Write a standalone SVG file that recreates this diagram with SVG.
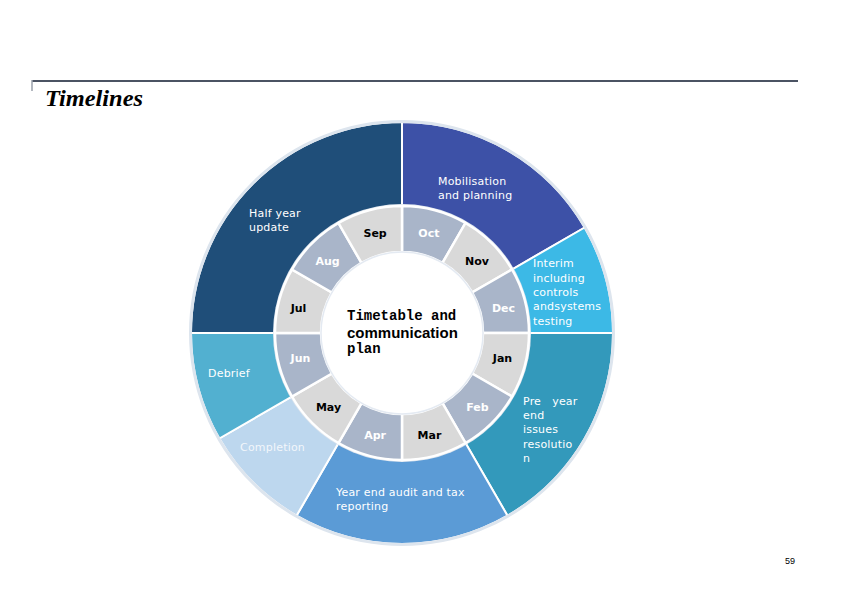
<svg xmlns="http://www.w3.org/2000/svg" width="842" height="595" viewBox="0 0 842 595">
<style>
.seg{stroke:#ffffff;stroke-width:2}
.mon{stroke:#ffffff;stroke-width:2.5}
.mb{fill:#a9b5c9}
.ml{fill:#d9d9d9}
.mt{font-family:"DejaVu Sans","Liberation Sans",sans-serif;font-size:11px;font-weight:bold;text-anchor:middle}
.tw{fill:#ffffff}
.tk{fill:#000000}
.ol{font-family:"DejaVu Sans","Liberation Sans",sans-serif;font-size:11px;fill:#ffffff;letter-spacing:0.2px}
.mono{font-family:"Liberation Mono","Courier New",monospace;font-size:14px;font-weight:bold;fill:#000}
</style>
<rect width="842" height="595" fill="#ffffff"/>
<g id="header">
<line x1="32" y1="81" x2="798" y2="81" stroke="#4b5363" stroke-width="2"/>
<line x1="32" y1="80" x2="32" y2="91" stroke="#9aa1ab" stroke-width="1.5"/>
<text x="45" y="106" font-family="Liberation Serif,serif" font-size="23" font-style="italic" font-weight="bold" textLength="98" lengthAdjust="spacingAndGlyphs" fill="#000">Timelines</text>
</g>
<g id="outer-ring">
<g id="mobilisation"><path class="seg" fill="#3d51a7" d="M402,333 L402,122 A211,211 0 0 1 584.7,227.5 Z"/>
<text class="ol" x="438" y="185">Mobilisation</text><text class="ol" x="438" y="199">and planning</text></g>
<g id="interim"><path class="seg" fill="#3cb9e6" d="M402,333 L584.7,227.5 A211,211 0 0 1 613,333 Z"/>
<text class="ol" x="533" y="267">Interim</text><text class="ol" x="533" y="281.5">including</text><text class="ol" x="533" y="296">controls</text><text class="ol" x="533" y="310">andsystems</text><text class="ol" x="533" y="324.5">testing</text></g>
<g id="preyear"><path class="seg" fill="#3399bb" d="M402,333 L613,333 A211,211 0 0 1 507.5,515.7 Z"/>
<text class="ol" x="523" y="405" xml:space="preserve">Pre   year</text><text class="ol" x="523" y="419">end</text><text class="ol" x="523" y="433">issues</text><text class="ol" x="523" y="447.5">resolutio</text><text class="ol" x="523" y="462">n</text></g>
<g id="yearend"><path class="seg" fill="#5b9bd6" d="M402,333 L507.5,515.7 A211,211 0 0 1 296.5,515.7 Z"/>
<text class="ol" x="336" y="496">Year end audit and tax</text><text class="ol" x="336" y="510">reporting</text></g>
<g id="completion"><path class="seg" fill="#bdd7ee" d="M402,333 L296.5,515.7 A211,211 0 0 1 219.3,438.5 Z"/>
<text class="ol" x="240" y="451" fill="#eef4fa" style="fill:#f2f6fb">Completion</text></g>
<g id="debrief"><path class="seg" fill="#52b0d0" d="M402,333 L219.3,438.5 A211,211 0 0 1 191,333 Z"/>
<text class="ol" x="208" y="377">Debrief</text></g>
<g id="halfyear"><path class="seg" fill="#1f4e79" d="M402,333 L191,333 A211,211 0 0 1 402,122 Z"/>
<text class="ol" x="249" y="217">Half year</text><text class="ol" x="249" y="231">update</text></g>
<circle cx="402" cy="333" r="211.5" fill="none" stroke="#dde5ee" stroke-width="3"/>
</g>
<g id="month-ring">
<circle cx="402" cy="333" r="129" fill="#dde5ee"/>
<g id="oct"><path class="mon mb" d="M402,206 A127,127 0 0 1 465.5,223 L442.5,262.9 A81,81 0 0 0 402,252 Z"/><text class="mt tw" x="428.9" y="236.5">Oct</text></g>
<g id="nov"><path class="mon ml" d="M465.5,223 A127,127 0 0 1 512,269.5 L472.1,292.5 A81,81 0 0 0 442.5,262.9 Z"/><text class="mt tk" x="477" y="264.5">Nov</text></g>
<g id="dec"><path class="mon mb" d="M512,269.5 A127,127 0 0 1 529,333 L483,333 A81,81 0 0 0 472.1,292.5 Z"/><text class="mt tw" x="503.5" y="312">Dec</text></g>
<g id="jan"><path class="mon ml" d="M529,333 A127,127 0 0 1 512,396.5 L472.1,373.5 A81,81 0 0 0 483,333 Z"/><text class="mt tk" x="502.5" y="362">Jan</text></g>
<g id="feb"><path class="mon mb" d="M512,396.5 A127,127 0 0 1 465.5,443 L442.5,403.1 A81,81 0 0 0 472.1,373.5 Z"/><text class="mt tw" x="477.5" y="410.5">Feb</text></g>
<g id="mar"><path class="mon ml" d="M465.5,443 A127,127 0 0 1 402,460 L402,414 A81,81 0 0 0 442.5,403.1 Z"/><text class="mt tk" x="429.5" y="438.5">Mar</text></g>
<g id="apr"><path class="mon mb" d="M402,460 A127,127 0 0 1 338.5,443 L361.5,403.1 A81,81 0 0 0 402,414 Z"/><text class="mt tw" x="375.1" y="438.5">Apr</text></g>
<g id="may"><path class="mon ml" d="M338.5,443 A127,127 0 0 1 292,396.5 L331.9,373.5 A81,81 0 0 0 361.5,403.1 Z"/><text class="mt tk" x="328.5" y="410.5">May</text></g>
<g id="jun"><path class="mon mb" d="M292,396.5 A127,127 0 0 1 275,333 L321,333 A81,81 0 0 0 331.9,373.5 Z"/><text class="mt tw" x="300.5" y="362">Jun</text></g>
<g id="jul"><path class="mon ml" d="M275,333 A127,127 0 0 1 292,269.5 L331.9,292.5 A81,81 0 0 0 321,333 Z"/><text class="mt tk" x="298.5" y="312">Jul</text></g>
<g id="aug"><path class="mon mb" d="M292,269.5 A127,127 0 0 1 338.5,223 L361.5,262.9 A81,81 0 0 0 331.9,292.5 Z"/><text class="mt tw" x="327.5" y="264.5">Aug</text></g>
<g id="sep"><path class="mon ml" d="M338.5,223 A127,127 0 0 1 402,206 L402,252 A81,81 0 0 0 361.5,262.9 Z"/><text class="mt tk" x="375.1" y="236.5">Sep</text></g>
<circle cx="402" cy="333" r="81" fill="#ffffff" stroke="#e4eaf2" stroke-width="1.5"/>
</g>
<g id="center">
<text class="mono" x="347" y="320">Timetable and</text>
<text x="347" y="338" font-family="Liberation Sans,Arial,sans-serif" font-size="15" font-weight="bold" fill="#000">communication</text>
<text class="mono" x="347" y="353">plan</text>
</g>
<text x="785" y="564" font-family="Liberation Sans,Arial,sans-serif" font-size="9" fill="#000">59</text>
</svg>
